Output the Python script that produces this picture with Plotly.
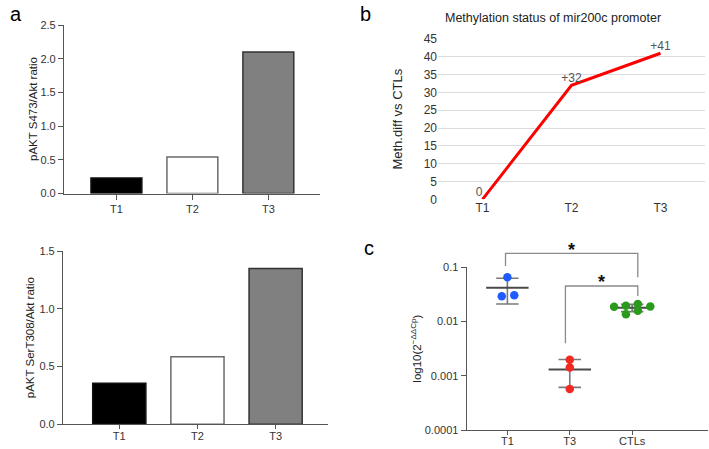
import plotly.graph_objects as go

# ---------------- data ----------------
a_cats = ["T1", "T2", "T3"]
a_s473 = [0.23, 0.54, 2.1]
a_t308 = [0.355, 0.585, 1.35]
a_fill = ["#000000", "#ffffff", "#808080"]
a_edge = ["#111111", "#6a6a6a", "#333333"]

b_cats = ["T1", "T2", "T3"]
b_vals = [0, 32, 41]
b_labels = ["0", "+32", "+41"]

c_cats = ["T1", "T3", "CTLs"]
t1_x = [0.0, -0.09, 0.11]
t1_y = [0.0655, 0.0292, 0.0305]
t3_x = [1.0, 1.0, 1.0]
t3_y = [0.00197, 0.00142, 0.00057]
ctl_x = [1.71, 1.9, 2.09, 2.29, 1.9, 2.09]
ctl_y = [0.0188, 0.0196, 0.0210, 0.0190, 0.0136, 0.0158]
c_mean = [0.042, 0.0013, 0.018]
c_upper = [0.063, 0.0020, 0.0207]
c_lower = [0.021, 0.00061, 0.0152]
c_colors = ["#1f5bff", "#f02a22", "#2a9a1c"]

FONT = "Liberation Sans, Arial, sans-serif"
W, H = 709, 449

def px_x(p):
    return p / W

def px_y(p):
    return 1 - p / H

fig = go.Figure()

fig.add_trace(go.Bar(x=[0, 1, 2], y=a_s473, width=0.67,
                     marker=dict(color=a_fill, line=dict(color=a_edge, width=1.5)),
                     xaxis="x", yaxis="y", showlegend=False))
fig.add_trace(go.Bar(x=[0, 1, 2], y=a_t308, width=0.68,
                     marker=dict(color=a_fill, line=dict(color=a_edge, width=1.5)),
                     xaxis="x2", yaxis="y2", showlegend=False))
fig.add_trace(go.Scatter(x=[0, 1, 2], y=b_vals, mode="lines+text",
                         line=dict(color="#ff0000", width=3),
                         text=b_labels,
                         textposition=["top left", "top center", "top center"],
                         textfont=dict(family=FONT, size=12, color="#555555"),
                         cliponaxis=False,
                         xaxis="x3", yaxis="y3", showlegend=False))

groups_x = [t1_x, t3_x, ctl_x]
groups_y = [t1_y, t3_y, ctl_y]
half_mean = [0.34, 0.34, 0.31]
half_cap = 0.18
for i in range(3):
    fig.add_trace(go.Scatter(
        x=[i, i, None, i - half_cap, i + half_cap, None, i - half_cap, i + half_cap],
        y=[c_lower[i], c_upper[i], None, c_upper[i], c_upper[i], None, c_lower[i], c_lower[i]],
        mode="lines", line=dict(color="#7a7a7a", width=1.6),
        xaxis="x4", yaxis="y4", showlegend=False, hoverinfo="skip"))
    fig.add_trace(go.Scatter(
        x=[i - half_mean[i], i + half_mean[i]], y=[c_mean[i], c_mean[i]],
        mode="lines", line=dict(color="#4a4a4a", width=2),
        xaxis="x4", yaxis="y4", showlegend=False, hoverinfo="skip"))
    fig.add_trace(go.Scatter(
        x=groups_x[i], y=groups_y[i], mode="markers",
        marker=dict(color=c_colors[i], size=8.5),
        cliponaxis=False,
        xaxis="x4", yaxis="y4", showlegend=False))

axis_common = dict(showline=True, linecolor="#555555", linewidth=1.2,
                   ticks="outside", tickcolor="#555555", ticklen=5, tickwidth=1.2,
                   showgrid=False, zeroline=False, automargin=False,
                   ticklabeloverflow="allow",
                   tickfont=dict(family=FONT, size=11, color="#333333"))

cx_range = [-0.652, 3.215]
cy_range = [-4, -1]

def cxd(x):
    return (x - cx_range[0]) / (cx_range[1] - cx_range[0])

def cyd(lv):
    return (lv - cy_range[0]) / (cy_range[1] - cy_range[0])

fig.update_layout(
    width=W, height=H,
    margin=dict(l=0, r=0, t=0, b=0, autoexpand=False),
    paper_bgcolor="white", plot_bgcolor="white",
    font=dict(family=FONT, color="#222222"),
    xaxis=dict(axis_common, domain=[px_x(64), px_x(320)], range=[-0.69, 2.68],
               tickvals=[0, 1, 2], ticktext=a_cats, anchor="y"),
    yaxis=dict(axis_common, domain=[px_y(193.5), px_y(25)], range=[0, 2.5],
               tickvals=[0, 0.5, 1.0, 1.5, 2.0, 2.5],
               ticktext=["0.0", "0.5", "1.0", "1.5", "2.0", "2.5"],
               anchor="x"),
    xaxis2=dict(axis_common, domain=[px_x(63), px_x(328)], range=[-0.72, 2.67],
                tickvals=[0, 1, 2], ticktext=a_cats, anchor="y2", ticklen=4,
                ticklabelstandoff=-3),
    yaxis2=dict(axis_common, domain=[px_y(424.3), px_y(251)], range=[0, 1.502],
                tickvals=[0, 0.5, 1.0, 1.5], ticktext=["0.0", "0.5", "1.0", "1.5"],
                title=dict(text="pAKT SerT308/Akt ratio", font=dict(family=FONT, size=11.5, color="#222"),
                           standoff=2),
                anchor="x2"),
    xaxis3=dict(domain=[px_x(438), px_x(705)], range=[-0.5, 2.5],
                tickvals=[0, 1, 2], ticktext=b_cats, showline=False, showgrid=False,
                zeroline=False, ticks="", automargin=False, ticklabeloverflow="allow",
                tickfont=dict(family=FONT, size=12, color="#333333"), anchor="y3"),
    yaxis3=dict(domain=[px_y(199.3), px_y(39)], range=[0, 45], dtick=5,
                showline=False, showgrid=True, gridcolor="#dcdcdc", gridwidth=1,
                zeroline=False, ticks="", automargin=False, ticklabeloverflow="allow",
                tickfont=dict(family=FONT, size=12, color="#333333"),
                title=dict(text="Meth.diff vs CTLs", font=dict(family=FONT, size=13, color="#222"),
                           standoff=18),
                anchor="x3"),
    xaxis4=dict(axis_common, domain=[px_x(466.7), px_x(708)], range=cx_range,
                tickvals=[0, 1, 2], ticktext=c_cats, anchor="y4", ticklen=4,
                ticklabelstandoff=-3),
    yaxis4=dict(axis_common, domain=[px_y(430), px_y(267.3)], type="log", range=cy_range,
                tickvals=[1e-4, 1e-3, 1e-2, 1e-1],
                ticktext=["0.0001", "0.001", "0.01", "0.1"],
                title=dict(text="log10(2<sup>\u2212\u0394\u0394Cp</sup>)",
                           font=dict(family=FONT, size=11.5, color="#222"), standoff=0),
                anchor="x4"),
)

# y title of the upper bar panel as a rotated annotation
fig.add_annotation(x=px_x(33), y=px_y(109), xref="paper", yref="paper",
                   text="pAKT S473/Akt ratio", textangle=-90, showarrow=False,
                   xanchor="center", yanchor="middle",
                   font=dict(family=FONT, size=11.5, color="#222"))

brackets = [
    (-0.03, 2.09, -0.742, -0.976, -1.185),
    (0.93, 2.09, -1.345, -2.402, -1.53),
]
for x0, x1, ytop, yl, yr in brackets:
    fig.add_shape(type="path", xref="x4 domain", yref="y4 domain",
                  path=f"M {cxd(x0)} {cyd(yl)} L {cxd(x0)} {cyd(ytop)} L {cxd(x1)} {cyd(ytop)} L {cxd(x1)} {cyd(yr)}",
                  line=dict(color="#8a8a8a", width=1.3))

stars = [(1.03, -0.589), (1.51, -1.185)]
for sx, sy in stars:
    fig.add_annotation(x=cxd(sx), y=cyd(sy), xref="x4 domain", yref="y4 domain", text="<b>*</b>",
                       showarrow=False, yshift=-5, xanchor="center", yanchor="middle",
                       font=dict(family=FONT, size=18, color="#111"))

fig.add_annotation(x=px_x(553), y=px_y(18), xref="paper", yref="paper",
                   text="Methylation status of mir200c promoter", showarrow=False,
                   xanchor="center", yanchor="middle",
                   font=dict(family=FONT, size=12.5, color="#222"))

for letter, lx, ly in [("a", 16, 14), ("b", 365, 14), ("c", 369, 248)]:
    fig.add_annotation(x=px_x(lx), y=px_y(ly), xref="paper", yref="paper",
                       text=letter, showarrow=False, xanchor="center", yanchor="middle",
                       font=dict(family=FONT, size=20, color="#000"))

fig.write_html("out.html", config={"displayModeBar": False},
               post_script="document.body.style.margin='0';document.body.style.padding='0';")
